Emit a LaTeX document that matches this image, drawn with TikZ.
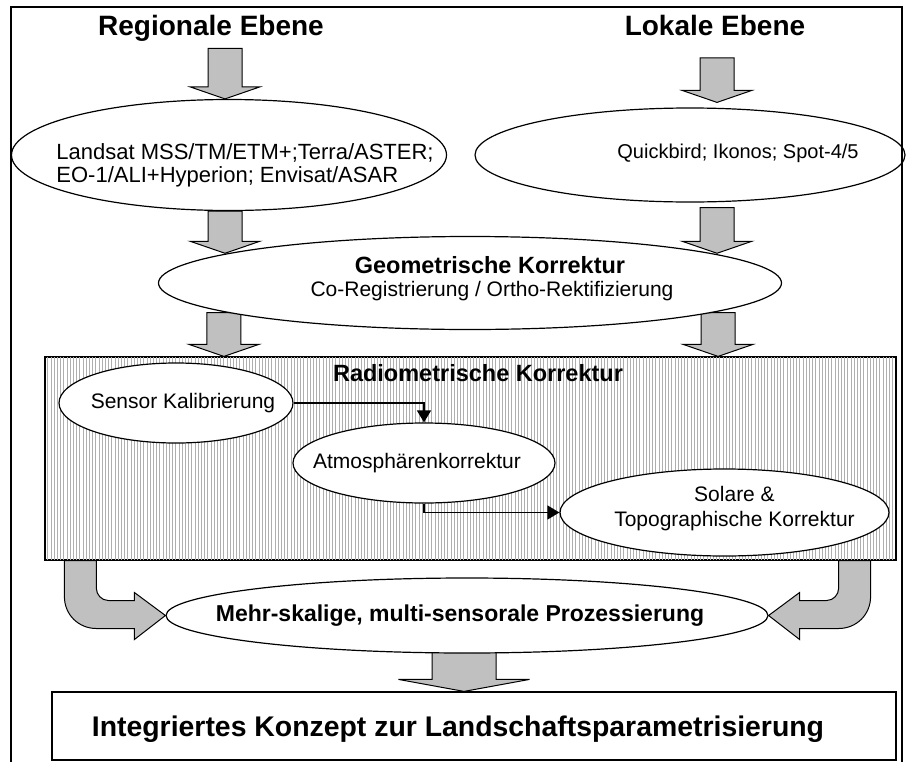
\documentclass[tikz,border=0pt]{standalone}
\usepackage{fontspec}
\setmainfont{Liberation Sans}
\usetikzlibrary{shapes.geometric,arrows.meta,positioning,calc,backgrounds}

\definecolor{arrowgray}{RGB}{192,192,192}
\definecolor{hatchgray}{RGB}{175,175,175}

\tikzset{
  oval/.style={ellipse, draw, fill=white, line width=1.2pt, inner sep=0pt},
  panel/.style={rectangle, draw, fill=white, line width=1.2pt, inner sep=0pt},
  txt/.style={font=\fontsize{21}{25}\selectfont},
  headtxt/.style={font=\fontsize{23.5}{27}\selectfont\bfseries},
  leveltitle/.style={font=\fontsize{28}{32}\selectfont\bfseries},
  hatch/.style={draw=hatchgray, line width=0.35pt},
  flow/.style={line width=1.5pt, -{Triangle[width=14pt,length=12pt]}},
  blockarrow/.style={draw, line width=1pt, fill=arrowgray,
    to path={let \p1=(\tikztostart), \p2=(\tikztotarget) in
      (\x1-#1,\y1) -- (\x1-#1,\y2+12pt) -- (\x1-2.05*#1,\y2+12pt) -- (\x1,\y2)
      -- (\x1+2.05*#1,\y2+12pt) -- (\x1+#1,\y2+12pt) -- (\x1+#1,\y1) -- cycle}},
  blockarrow/.default=17pt,
  bentarrow/.style={draw, line width=1pt, fill=arrowgray,
    to path={let \p1=(\tikztostart), \p2=(\tikztotarget) in
      ({\x1-16pt*(#1)},\y1) -- ({\x1-16pt*(#1)},\y2+19pt)
      .. controls ({\x1-16pt*(#1)},\y2+1pt) and ({\x1-2pt*(#1)},\y2-13pt) .. ({\x1+16pt*(#1)},\y2-13pt)
      -- ({\x2-31pt*(#1)},\y2-13pt) -- ({\x2-31pt*(#1)},\y2-24pt) -- (\x2,\y2)
      -- ({\x2-31pt*(#1)},\y2+23pt) -- ({\x2-31pt*(#1)},\y2+15pt)
      -- ({\x1+28pt*(#1)},\y2+15pt)
      .. controls ({\x1+21pt*(#1)},\y2+15pt) and ({\x1+16pt*(#1)},\y2+21pt) .. ({\x1+16pt*(#1)},\y2+27pt)
      -- ({\x1+16pt*(#1)},\y1) -- cycle}}
}

\begin{document}
\begin{tikzpicture}[x=1pt, y=-1pt]
    \useasboundingbox (0,0) rectangle (911,761);

    % Ebenen und Sensoren
    \node (regtitle) [leveltitle, anchor=base] at (211,35) {Regionale Ebene};
    \node (loctitle) [leveltitle, anchor=base] at (715,35) {Lokale Ebene};
    \node (landsat) [oval, minimum width=435pt, minimum height=111pt, label={[name=landsattxt, font=\fontsize{22}{23}\selectfont, align=left, xshift=16pt, yshift=-10pt]center:Landsat MSS/TM/ETM+;Terra/ASTER;\\EO-1/ALI+Hyperion; Envisat/ASAR}] at (229,155) {};
    \node (quick) [oval, minimum width=430pt, minimum height=94pt, label={[name=quicktxt, font=\fontsize{20}{24}\selectfont, xshift=48pt, yshift=2pt]center:Quickbird; Ikonos; Spot-4/5}] at (690,155) {};
    \node (geom) [oval, minimum width=623pt, minimum height=93pt, label={[name=geomhead, headtxt, xshift=20pt, yshift=18pt]center:Geometrische Korrektur}, label={[name=geomtxt, txt, xshift=22pt, yshift=-8pt]center:Co-Registrierung / Ortho-Rektifizierung}] at (470,283) {};

    % Radiometrische Korrektur
    \node (radbox) [panel, minimum width=851pt, minimum height=203pt] at (470.5,458.5) {};
    \begin{scope}
        \clip ([shift={(1pt,-1pt)}]radbox.north west) rectangle ([shift={(-1pt,1pt)}]radbox.south east);
        \foreach \i in {1,...,265}
            \draw[hatch] ([xshift=3.2pt*\i]radbox.north west) -- ([xshift=3.2pt*\i]radbox.south west);
    \end{scope}
    \node (radtitle) [headtxt] at (478,373) {Radiometrische Korrektur};
    \node (sensor) [oval, minimum width=234pt, minimum height=80pt, label={[name=sensortxt, txt, xshift=7pt]center:Sensor Kalibrierung}] at (176,403) {};
    \node (atmos) [oval, minimum width=262pt, minimum height=80pt, label={[name=atmostxt, txt, xshift=-7pt]center:Atmosphärenkorrektur}] at (424,463) {};
    \node (solare) [oval, minimum width=329pt, minimum height=87pt, label={[name=solaretxt, txt, align=center, xshift=10pt, yshift=4pt]center:Solare \&\\Topographische Korrektur}] at (724.5,512.5) {};

    \draw[flow] (sensor.east) -| (atmos.north);
    \draw[flow] (atmos.south) |- (solare.west);

    % Zusammenfuehrung
    \node (mehr) [oval, minimum width=602pt, minimum height=75pt, label={[name=mehrtxt, font=\fontsize{23}{27}\selectfont\bfseries, xshift=-7pt]center:{Mehr-skalige, multi-sensorale Prozessierung}}] at (467,615.5) {};
    \node (integ) [panel, minimum width=844pt, minimum height=68pt, label={[name=integtxt, font=\fontsize{28.4}{32}\selectfont\bfseries, xshift=-16pt, yshift=-3pt]center:Integriertes Konzept zur Landschaftsparametrisierung}] at (474,726) {};

    \draw[line width=1.5pt] (11,765) -- (11,7) -- (902,7) -- (902,765);

    \begin{pgfonlayer}{background}
        \draw[blockarrow] ([xshift=14pt,yshift=-4pt]regtitle.south) to (landsat.north);
        \draw[blockarrow] ([xshift=2pt,yshift=-19pt]loctitle.south) to ([yshift=5pt]quick.north);
        \draw[blockarrow] ([xshift=-4pt]landsat.south) to (geom.173);
        \draw[blockarrow] ([xshift=27pt,yshift=-5pt]quick.south) to (geom.7);
        \draw[blockarrow] ([xshift=-4pt]geom.187) to (radbox.north);
        \draw[blockarrow] ([xshift=6pt]geom.353) to (radbox.north);
        \draw[bentarrow=1] ([xshift=36pt]radbox.south west) to (mehr.west);
        \draw[bentarrow=-1] ([xshift=-42pt]radbox.south east) to (mehr.east);
        \draw[blockarrow=32pt] ([xshift=-3pt,yshift=8pt]mehr.south) to (integ.north);
    \end{pgfonlayer}
\end{tikzpicture}
\end{document}
